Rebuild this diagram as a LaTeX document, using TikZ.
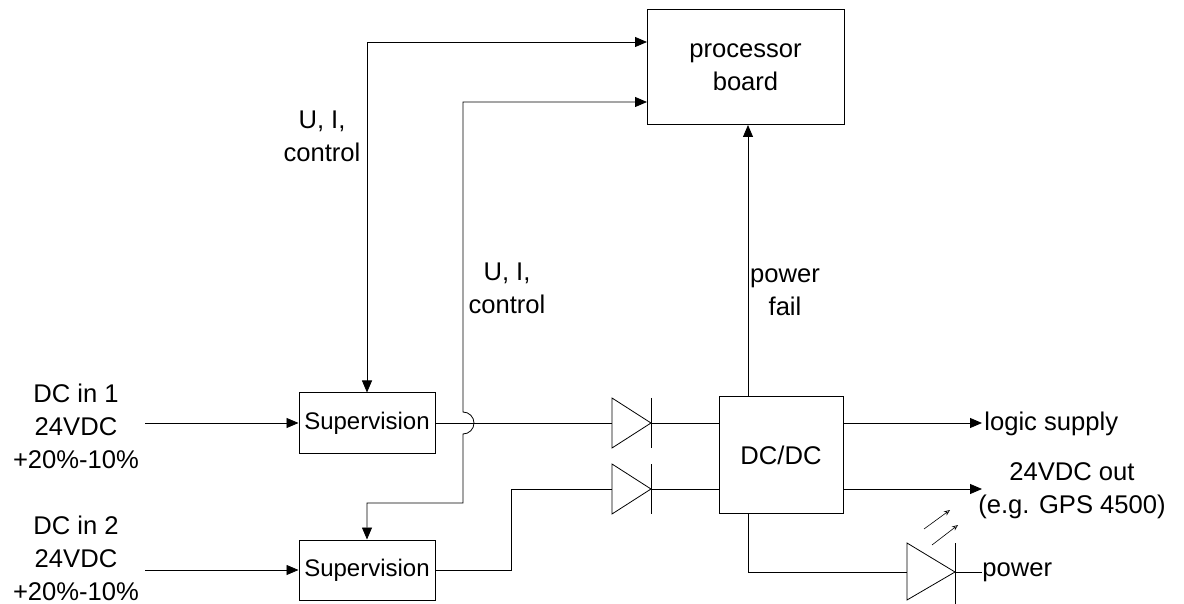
\documentclass[tikz,border=0pt]{standalone}
\usepackage{fontspec}
\setmainfont{Liberation Sans}
\usepackage{tikz}
\usetikzlibrary{arrows.meta}
\pgfdeclarelayer{edgelayer}
\pgfdeclarelayer{nodelayer}
\pgfsetlayers{edgelayer,nodelayer,main}
\tikzstyle{none} = []
\tikzstyle{box} = [draw, line width=0.5pt, inner sep=0pt, align=center]
\tikzstyle{label} = [inner sep=0pt, align=center]
\tikzstyle{arrow} = [-{Triangle[length=6pt,width=5pt]}]
\tikzstyle{both arrow} = [{Triangle[length=6pt,width=5pt]}-{Triangle[length=6pt,width=5pt]}]
\tikzstyle{light} = [-{Stealth[open,length=3pt,width=2.5pt]}, line width=0.3pt]

\begin{document}
\begin{tikzpicture}[x=0.5pt, y=-0.5pt, line width=0.5pt, font=\fontsize{12.8}{16.5}\selectfont]
	\useasboundingbox (0,0) rectangle (1184,604);
	\begin{pgfonlayer}{nodelayer}
		\node [style=box, minimum width=98.5pt, minimum height=57.5pt] (0) at (745.5, 67.5) {processor\\board};
		\node [style=box, minimum width=68pt, minimum height=30pt, font=\fontsize{12}{15}\selectfont] (1) at (367, 423) {Supervision};
		\node [style=box, minimum width=68pt, minimum height=30pt, font=\fontsize{12}{15}\selectfont] (2) at (367, 570) {Supervision};
		\node [style=box, minimum width=62pt, minimum height=58pt] (3) at (781, 455) {DC/DC};
		\node [style=label] (4) at (76, 426) {DC in 1\\24VDC\\+20\%-10\%};
		\node [style=label] (5) at (76, 558) {DC in 2\\24VDC\\+20\%-10\%};
		\node [style=label] (6) at (322, 136) {U, I,\\control};
		\node [style=label] (7) at (507, 288) {U, I,\\control};
		\node [style=label] (8) at (785, 292) {power\\fail};
		\node [style=label, anchor=west] (9) at (984, 424) {logic supply};
		\node [style=label] (10) at (1072, 491) {24VDC out\\(e.g. GPS 4500)};
		\node [style=label, anchor=west] (11) at (982, 572) {power};
		\node [style=none] (12) at (145, 423) {};
		\node [style=none] (13) at (145, 570) {};
		\node [style=none] (14) at (367, 42) {};
		\node [style=none] (15) at (647, 42) {};
		\node [style=none] (16) at (367, 503) {};
		\node [style=none] (17) at (463, 503) {};
		\node [style=none] (18) at (463, 434) {};
		\node [style=none] (19) at (463, 102) {};
		\node [style=none] (20) at (647, 102) {};
		\node [style=none] (21) at (612, 423) {};
		\node [style=none] (22) at (651, 423) {};
		\node [style=none] (23) at (719, 423) {};
		\node [style=none] (24) at (511, 570) {};
		\node [style=none] (25) at (511, 489) {};
		\node [style=none] (26) at (612, 489) {};
		\node [style=none] (27) at (651, 489) {};
		\node [style=none] (28) at (719, 489) {};
		\node [style=none] (29) at (748, 397) {};
		\node [style=none] (30) at (748, 125) {};
		\node [style=none] (31) at (843, 423) {};
		\node [style=none] (32) at (982, 423) {};
		\node [style=none] (33) at (843, 489) {};
		\node [style=none] (34) at (982, 489) {};
		\node [style=none] (35) at (748, 513) {};
		\node [style=none] (36) at (748, 572) {};
		\node [style=none] (37) at (907, 572) {};
		\node [style=none] (38) at (955, 572) {};
		\node [style=none] (39) at (982, 572) {};
	\end{pgfonlayer}
	\begin{pgfonlayer}{edgelayer}
		\draw [style=arrow] (12.center) to (1.west);
		\draw [style=arrow] (13.center) to (2.west);
		\draw [style=both arrow] (1.north) to (14.center) to (15.center);
		\draw [style=both arrow] (2.north) -- (16.center) -- (17.center) -- (18.center) arc [start angle=90, end angle=-90, radius=11] -- (19.center) -- (20.center);
		\draw (1.east) to (21.center);
		\draw (22.center) to (23.center);
		\draw (2.east) to (24.center) to (25.center) to (26.center);
		\draw (27.center) to (28.center);
		\draw [style=arrow] (29.center) to (30.center);
		\draw [style=arrow] (31.center) to (32.center);
		\draw [style=arrow] (33.center) to (34.center);
		\draw (35.center) to (36.center) to (37.center);
		\draw (38.center) to (39.center);
		% diodes
		\draw (612, 398) -- (612, 448) -- (651, 423) -- cycle;
		\draw (651, 398) -- (651, 448);
		\draw (612, 464) -- (612, 514) -- (651, 489) -- cycle;
		\draw (651, 464) -- (651, 514);
		% led
		\draw (907, 543) -- (907, 600) -- (955, 572) -- cycle;
		\draw (955, 543) -- (955, 604);
		\draw [style=light] (924, 529) to (950, 510);
		\draw [style=light] (932, 545) to (958, 525);
	\end{pgfonlayer}
\end{tikzpicture}
\end{document}
